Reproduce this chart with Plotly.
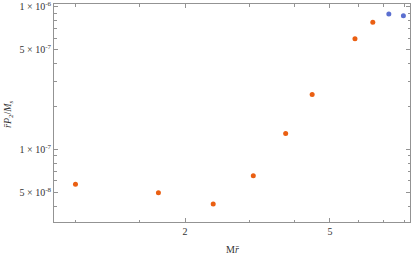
import plotly.graph_objects as go
import math

# data
x_orange = [1.0, 1.69, 2.39, 3.08, 3.78, 4.47, 5.86, 6.56]
y_orange = [5.69e-8, 4.96e-8, 4.13e-8, 6.53e-8, 1.29e-7, 2.42e-7, 5.97e-7, 7.78e-7]
x_blue = [7.26, 7.96]
y_blue = [8.89e-7, 8.65e-7]

x_major = [2, 5]
x_major_labels = ["2", "5"]
x_minor = [1, 1.5, 3, 4, 6, 7, 8]
y_major = [5e-8, 1e-7, 5e-7, 1e-6]
y_major_labels = ["5 × 10<sup>-8</sup>", "1 × 10<sup>-7</sup>",
                  "5 × 10<sup>-7</sup>", "1 × 10<sup>-6</sup>"]
y_minor = [4e-8, 6e-8, 7e-8, 8e-8, 9e-8, 2e-7, 3e-7, 4e-7,
           6e-7, 7e-7, 8e-7, 9e-7]

ORANGE = "#EA5F12"
BLUE = "#5B6FD0"
AX = "#939393"
FONT = "Liberation Serif"

fig = go.Figure()
fig.add_trace(go.Scatter(x=x_orange, y=y_orange, mode="markers", cliponaxis=False,
                         marker=dict(color=ORANGE, size=5), showlegend=False))
fig.add_trace(go.Scatter(x=x_blue, y=y_blue, mode="markers", cliponaxis=False,
                         marker=dict(color=BLUE, size=5), showlegend=False))

fig.update_layout(
    width=415, height=257,
    margin=dict(l=54, r=5, t=4, b=35),
    plot_bgcolor="white", paper_bgcolor="white",
    font=dict(family=FONT, size=10, color="#333"),
    xaxis=dict(type="log", range=[math.log10(0.873), math.log10(8.3)],
               automargin=False,
               showgrid=False, zeroline=False,
               showline=True, linecolor=AX, linewidth=1, mirror="ticks",
               ticks="inside", ticklen=4, tickcolor=AX,
               tickmode="array", tickvals=x_major, ticktext=x_major_labels,
               minor=dict(tickmode="array", tickvals=x_minor, ticks="inside",
                          ticklen=2.5, tickcolor=AX, showgrid=False),
               tickfont=dict(family=FONT, size=10, color="#333")),
    yaxis=dict(type="log", range=[math.log10(3.09e-8), math.log10(1.045e-6)],
               automargin=False,
               showgrid=False, zeroline=False,
               showline=True, linecolor=AX, linewidth=1, mirror="ticks",
               ticks="inside", ticklen=4, tickcolor=AX,
               tickmode="array", tickvals=y_major, ticktext=y_major_labels,
               minor=dict(tickmode="array", tickvals=y_minor, ticks="inside",
                          ticklen=2.5, tickcolor=AX, showgrid=False),
               tickfont=dict(family=FONT, size=10, color="#333")),
    annotations=[
        dict(text="M<i>r̄</i>", xref="paper", yref="paper",
             x=(233 - 54) / 356, y=-(249 - 222) / 218, showarrow=False,
             font=dict(family=FONT, size=10, color="#333"),
             xanchor="center", yanchor="middle"),
        dict(text="<i>r̄P</i><sub>2</sub>/<i>M</i><sub><i>s</i></sub>",
             xref="paper", yref="paper",
             x=-(54 - 8) / 356, y=(222 - 114) / 218, showarrow=False,
             textangle=-90,
             font=dict(family=FONT, size=10, color="#333"),
             xanchor="center", yanchor="middle"),
    ],
)

fig.write_html("out.html",
               config={"displayModeBar": False},
               post_script="document.body.style.margin='0';document.body.style.overflow='hidden';")
